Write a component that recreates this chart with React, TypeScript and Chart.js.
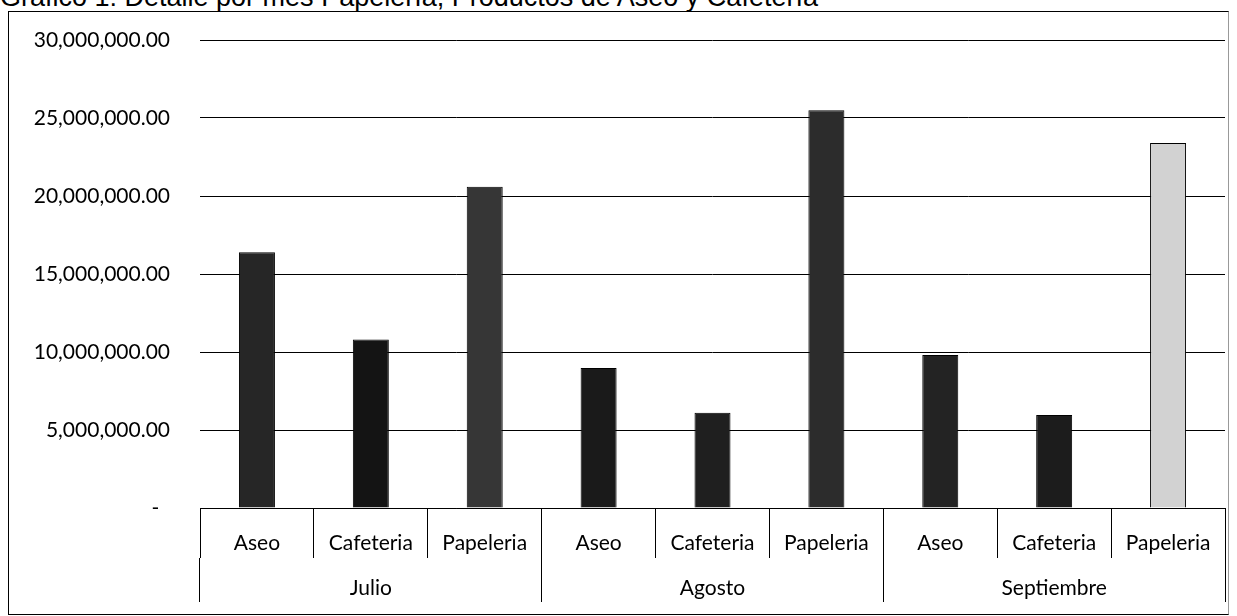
import React, { useEffect, useRef } from "react";
import { Chart, registerables } from "chart.js";

Chart.register(...registerables);

const titleText = "Gráfico 1: Detalle por mes Papelería, Productos de Aseo y Cafetería";
const subCategories = [
  "Aseo", "Cafeteria", "Papeleria",
  "Aseo", "Cafeteria", "Papeleria",
  "Aseo", "Cafeteria", "Papeleria",
];
const months = ["Julio", "Agosto", "Septiembre"];
const values = [16400000, 10800000, 20600000, 8970000, 6100000, 25500000, 9800000, 5960000, 23400000];
const barColors = ["#262626", "#141414", "#363636", "#1a1a1a", "#1f1f1f", "#2c2c2c", "#232323", "#1c1c1c", "#d2d2d2"];
const yMin = 0;
const yMax = 30000000;
const yStep = 5000000;

export default function App() {
  const canvasRef = useRef<HTMLCanvasElement | null>(null);

  useEffect(() => {
    const canvas = canvasRef.current;
    if (!canvas) return;
    const font = { family: "Lato", size: 21 };
    const chart = new Chart(canvas, {
      type: "bar",
      data: {
        labels: subCategories,
        datasets: [
          {
            data: values,
            backgroundColor: barColors,
            borderColor: "#000000",
            borderWidth: 1,
            barPercentage: 0.316,
            categoryPercentage: 1.0,
          },
        ],
      },
      options: {
        animation: false,
        responsive: false,
        devicePixelRatio: 1,
        layout: { padding: { left: 0, right: 3, top: 28, bottom: 12 } },
        plugins: { legend: { display: false }, tooltip: { enabled: false }, title: { display: false } },
        scales: {
          y: {
            min: yMin,
            max: yMax,
            ticks: {
              stepSize: yStep,
              color: "#000",
              font,
              padding: 0,
              callback: (v: any) =>
                Number(v) === 0
                  ? "-  "
                  : Number(v).toLocaleString("en-US", { minimumFractionDigits: 2, maximumFractionDigits: 2 }),
            },
            grid: { color: "#000", lineWidth: 1, drawTicks: true, tickLength: 30, tickColor: "rgba(0,0,0,0)" },
            border: { display: false },
            afterFit: (s: any) => {
              s.width = 191;
            },
          },
          x: {
            position: "bottom",
            weight: 0,
            offset: true,
            ticks: { color: "#000", font, padding: -27.6, autoSkip: false, maxRotation: 0 },
            grid: { offset: true, drawOnChartArea: false, tickLength: 50, color: "#000", lineWidth: 1 },
            border: { display: true, color: "#000" },
            afterFit: (s: any) => {
              s.height = 50;
            },
          },
          x2: {
            type: "category",
            labels: months,
            position: "bottom",
            weight: 1,
            offset: true,
            ticks: { color: "#000", font, padding: -26.6, autoSkip: false, maxRotation: 0 },
            grid: { offset: true, drawOnChartArea: false, tickLength: 44, color: "#000", lineWidth: 1 },
            border: { display: false },
            afterFit: (s: any) => {
              s.height = 44;
            },
          },
        },
      },
    } as any);
    return () => chart.destroy();
  }, []);

  return (
    <div style={{ position: "absolute", left: 0, top: 0, width: 1237, height: 616, overflow: "hidden", background: "#fff" }}>
      <div
        style={{
          position: "absolute",
          left: 0,
          top: -16,
          fontFamily: "'Liberation Sans', Arial, sans-serif",
          fontSize: 27,
          lineHeight: "27px",
          whiteSpace: "nowrap",
          color: "#000",
        }}
      >
        {titleText}
      </div>
      <div
        style={{
          position: "absolute",
          left: 8,
          top: 11,
          width: 1221,
          height: 604,
          boxSizing: "border-box",
          borderTop: "1px solid #000",
          borderLeft: "1px solid #000",
          borderBottom: "1px solid #000",
          borderRight: "1px solid #999",
        }}
      >
        <canvas ref={canvasRef} width={1219} height={602} style={{ display: "block", width: 1219, height: 602 }} />
      </div>
    </div>
  );
}
